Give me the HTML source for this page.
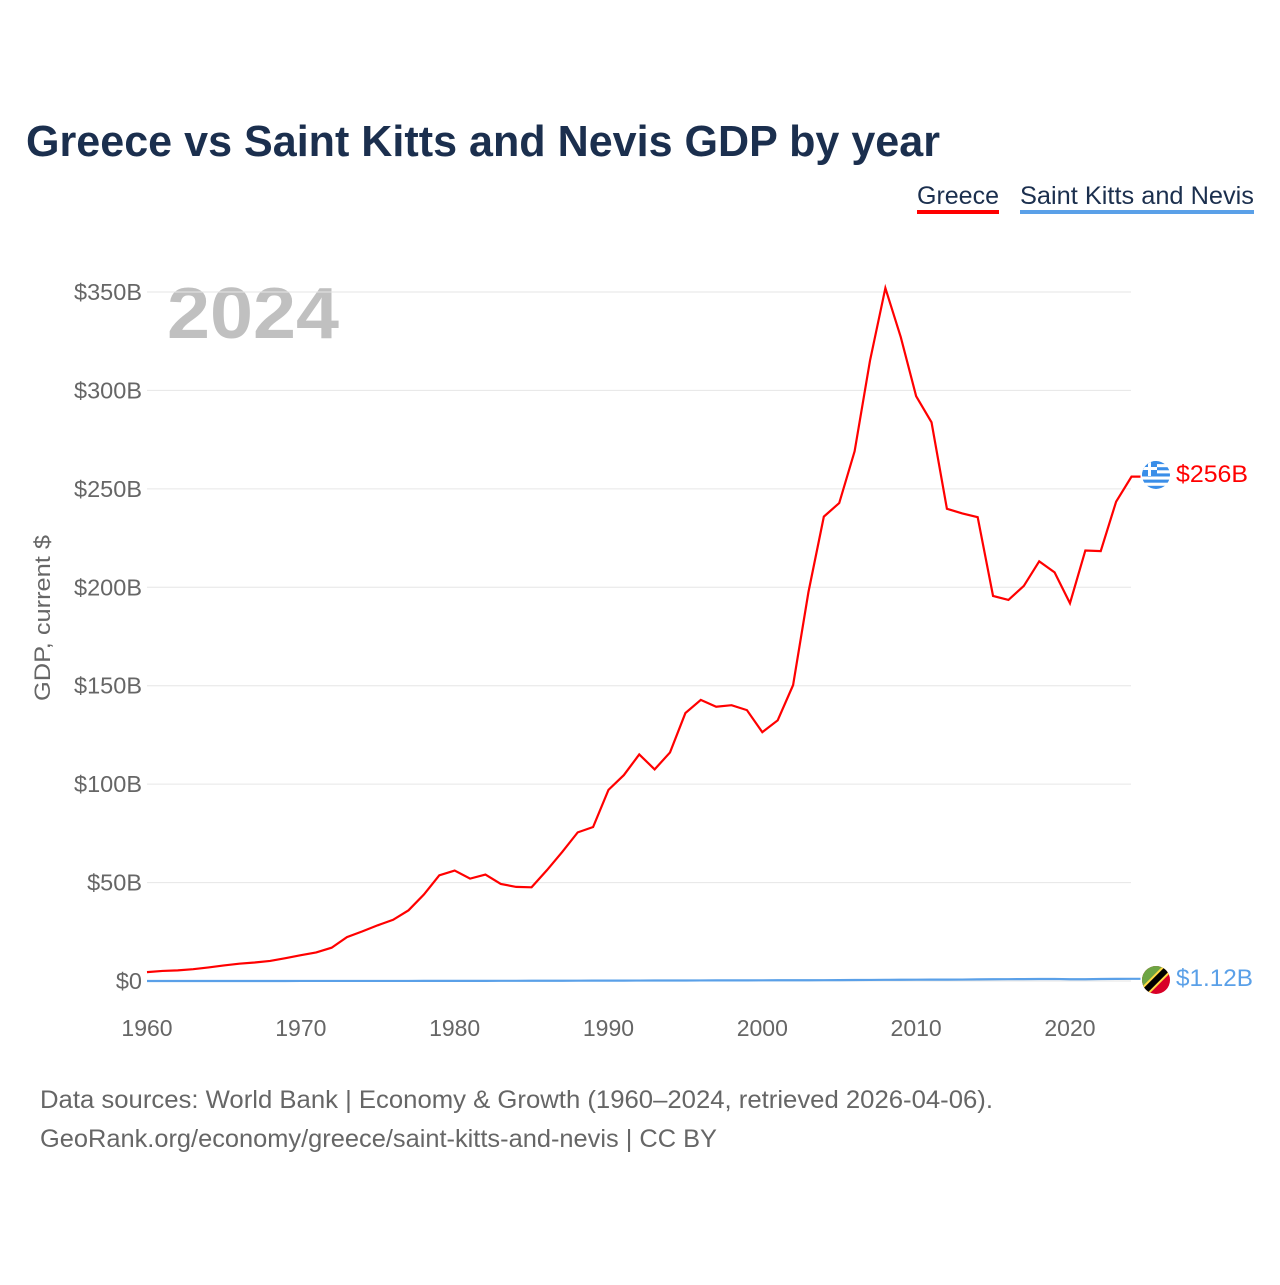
<!DOCTYPE html>
<html><head><meta charset="utf-8">
<style>
html,body{margin:0;padding:0;background:#fff;}
body{width:1280px;height:1280px;overflow:hidden;font-family:"Liberation Sans",sans-serif;}
</style></head>
<body>
<svg id="chart" width="1280" height="1280" xmlns="http://www.w3.org/2000/svg" font-family="Liberation Sans, sans-serif">
<text x="26" y="156" font-size="44" font-weight="bold" fill="#1b2f4e" textLength="914" lengthAdjust="spacingAndGlyphs">Greece vs Saint Kitts and Nevis GDP by year</text>
<g>
<text x="917" y="204" font-size="25" fill="#1b2f4e" textLength="82" lengthAdjust="spacingAndGlyphs">Greece</text>
<rect x="917" y="210" width="82" height="4" fill="#ff0000"/>
</g>
<g>
<text x="1020" y="204" font-size="25" fill="#1b2f4e" textLength="234" lengthAdjust="spacingAndGlyphs">Saint Kitts and Nevis</text>
<rect x="1020" y="210" width="234" height="4" fill="#5aa0e8"/>
</g>
<text x="167" y="338" font-size="72" font-weight="bold" fill="#c0c0c0" textLength="172" lengthAdjust="spacingAndGlyphs">2024</text>
<g id="grid"></g>
<g id="yticks"></g>
<g id="xticks"></g>
<text transform="translate(50,618) rotate(-90)" text-anchor="middle" font-size="22" fill="#666" textLength="166" lengthAdjust="spacingAndGlyphs">GDP, current $</text>
<g id="series"></g>
<g>
<clipPath id="cg"><circle cx="1156" cy="475" r="14"/></clipPath>
<g clip-path="url(#cg)">
<rect x="1142" y="461" width="28" height="28" fill="#fff"/>
<rect x="1142" y="461" width="28" height="3.1" fill="#3a8ee8"/>
<rect x="1142" y="467.2" width="28" height="3.1" fill="#3a8ee8"/>
<rect x="1142" y="473.4" width="28" height="3.1" fill="#3a8ee8"/>
<rect x="1142" y="479.6" width="28" height="3.1" fill="#3a8ee8"/>
<rect x="1142" y="485.8" width="28" height="3.2" fill="#3a8ee8"/>
<rect x="1142" y="461" width="15" height="15" fill="#3a8ee8"/>
<rect x="1142" y="467" width="15" height="3" fill="#fff"/>
<rect x="1148" y="461" width="3" height="15" fill="#fff"/>
</g></g>
<g>
<clipPath id="cs"><circle cx="1156" cy="980" r="14"/></clipPath>
<g clip-path="url(#cs)">
<rect x="1142" y="966" width="28" height="28" fill="#d80027"/>
<polygon points="1142,966 1170,966 1142,994" fill="#6da544"/>
<line x1="1140" y1="996" x2="1172" y2="964" stroke="#ffda44" stroke-width="10"/>
<line x1="1140" y1="996" x2="1172" y2="964" stroke="#000" stroke-width="6"/>
</g></g>
<text x="1176" y="482" font-size="24" fill="#ff0000" textLength="72" lengthAdjust="spacingAndGlyphs">$256B</text>
<text x="1176" y="986" font-size="24" fill="#5aa0e8" textLength="77" lengthAdjust="spacingAndGlyphs">$1.12B</text>
<text x="40" y="1108" font-size="25" fill="#666" textLength="953" lengthAdjust="spacingAndGlyphs">Data sources: World Bank | Economy &amp; Growth (1960–2024, retrieved 2026-04-06).</text>
<text x="40" y="1147" font-size="25" fill="#666" textLength="677" lengthAdjust="spacingAndGlyphs">GeoRank.org/economy/greece/saint-kitts-and-nevis | CC BY</text>
</svg>
<script>
const years = [];
for (let y = 1960; y <= 2024; y++) years.push(y);
const greece = [4.5,5.1,5.4,6.0,6.9,7.9,8.8,9.4,10.2,11.6,13.1,14.5,16.9,22.3,25.2,28.3,31.1,35.9,43.9,53.7,56.1,52.0,54.1,49.3,47.8,47.6,56.3,65.6,75.5,78.2,97.1,104.6,115.1,107.5,116.1,136.1,142.8,139.3,140.1,137.6,126.4,132.4,150.3,197.6,235.9,242.8,269.1,315.1,352.0,327.1,297.1,283.8,239.9,237.5,235.6,195.6,193.6,200.7,213.2,207.6,191.9,218.7,218.4,243.5,256.2];
const skn = [0.01,0.01,0.01,0.01,0.01,0.01,0.01,0.01,0.01,0.01,0.02,0.02,0.02,0.03,0.03,0.03,0.04,0.04,0.05,0.06,0.07,0.08,0.08,0.09,0.10,0.11,0.12,0.14,0.16,0.18,0.19,0.20,0.22,0.24,0.25,0.26,0.28,0.30,0.31,0.33,0.35,0.37,0.38,0.39,0.41,0.45,0.50,0.55,0.60,0.62,0.66,0.68,0.70,0.72,0.82,0.88,0.93,0.97,1.00,1.05,0.90,0.88,1.00,1.08,1.12];
const yTicks = [0,50,100,150,200,250,300,350];
const yTickLabels = ["$0","$50B","$100B","$150B","$200B","$250B","$300B","$350B"];
const xTicks = [1960,1970,1980,1990,2000,2010,2020];

const NS = "http://www.w3.org/2000/svg";
const X = y => 147 + (y - 1960) * (1131.5 - 147) / 64;
const Y = v => 981 - v * (981 - 292) / 350;

const grid = document.getElementById('grid');
const yt = document.getElementById('yticks');
yTicks.forEach((v, i) => {
  const l = document.createElementNS(NS, 'line');
  
  
  l.setAttribute('x1', 147); l.setAttribute('x2', 1131);
  l.setAttribute('y1', Y(v)); l.setAttribute('y2', Y(v));
  l.setAttribute('stroke', '#e6e6e6'); l.setAttribute('stroke-width', 1);
  grid.appendChild(l);
  const t = document.createElementNS(NS, 'text');
  
  
  t.setAttribute('x', 142); t.setAttribute('y', Y(v) + 8);
  t.setAttribute('text-anchor', 'end'); t.setAttribute('font-size', 23.5); t.setAttribute('fill', '#666');
  t.textContent = yTickLabels[i];
  yt.appendChild(t);
});
const xt = document.getElementById('xticks');
xTicks.forEach(v => {
  const t = document.createElementNS(NS, 'text');
  
  
  t.setAttribute('x', X(v)); t.setAttribute('y', 1036);
  t.setAttribute('text-anchor', 'middle'); t.setAttribute('font-size', 23); t.setAttribute('fill', '#666');
  t.textContent = v;
  xt.appendChild(t);
});
const ser = document.getElementById('series');
function line(vals, color, name) {
  const p = document.createElementNS(NS, 'polyline');
  
  
  p.setAttribute('points', vals.map((v, i) => X(years[i]) + ',' + Y(v)).join(' ') + ' ' + (X(2024) + 9) + ',' + Y(vals[vals.length - 1]));
  p.setAttribute('fill', 'none'); p.setAttribute('stroke', color); p.setAttribute('stroke-width', 2.2);
  ser.appendChild(p);
}
line(skn, '#5aa0e8', 'saint-kitts-line');
line(greece, '#ff0000', 'greece-line');
</script>
</body></html>
